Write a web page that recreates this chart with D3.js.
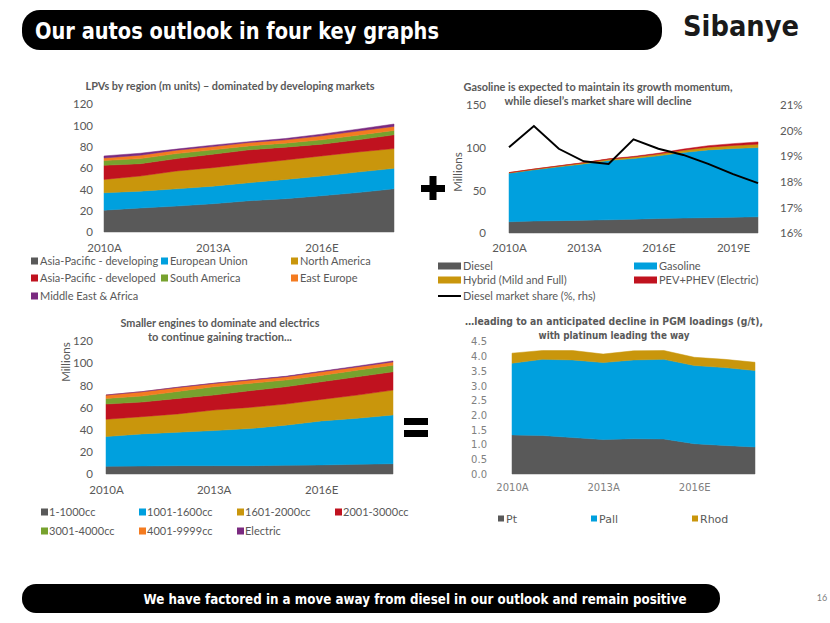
<!DOCTYPE html>
<html><head><meta charset="utf-8">
<script src="https://cdn.jsdelivr.net/npm/d3@7"></script>
<style>
body{margin:0;background:#fff}
svg{display:block}
text{font-family:Lato,'Open Sans',sans-serif}
</style>
</head><body>
<svg id="c" width="830" height="623"></svg>
<script>
// ---------- DATA ----------
const years9 = [2010,2011,2012,2013,2014,2015,2016,2017,2018];
const yearLabels9 = ["2010A","2011A","2012A","2013A","2014A","2015A","2016E","2017E","2018E"];
const years11 = [2010,2011,2012,2013,2014,2015,2016,2017,2018,2019,2020];
const yearLabels11 = ["2010A","2011A","2012A","2013A","2014A","2015A","2016E","2017E","2018E","2019E","2020E"];

// Chart 1: LPVs by region (m units)
const regionNames = ["Asia-Pacific - developing","European Union","North America","Asia-Pacific - developed","South America","East Europe","Middle East & Africa"];
const apDeveloping = [20.5,22.5,24.3,26.5,29.3,31.2,34.0,37.0,40.5];
const europeanUnion = [16.3,15.8,16.2,16.5,16.9,18.1,18.5,19.2,19.2];
const northAmerica = [12.5,14.2,16.7,17.3,17.8,18.2,18.8,18.8,18.5];
const apDeveloped = [13.2,11.5,11.6,12.6,13.0,12.0,11.0,11.4,12.9];
const southAmerica = [4.5,4.8,4.7,4.1,3.7,3.8,4.1,4.4,4.1];
const eastEurope = [2.4,3.2,3.2,3.1,3.2,3.1,3.8,3.8,3.8];
const middleEastAfrica = [1.9,1.8,1.0,1.3,0.8,1.2,1.5,1.8,2.2];
const regionTicks = [0,20,40,60,80,100,120];

// Chart 2: powertrain (millions) + diesel share
const powertrainNames = ["Diesel","Gasoline","Hybrid (Mild and Full)","PEV+PHEV (Electric)"];
const diesel = [13.2,14.0,14.5,15.0,15.5,16.2,17.0,17.5,18.0,18.5,19.0];
const gasoline = [56.9,60.0,63.0,66.0,69.5,71.1,73.4,76.8,79.4,80.5,81.1];
const hybrid = [0.6,0.8,1.0,1.2,1.5,1.8,2.2,2.7,3.2,3.6,4.0];
const pevPhev = [0.1,0.1,0.2,0.3,0.4,0.6,0.9,1.3,1.7,2.1,2.6];
const dieselShare = [19.35,20.18,19.29,18.8,18.7,19.66,19.29,19.05,18.7,18.3,17.95];
const powertrainTicks = [0,50,100,150];
const shareTicks = [16,17,18,19,20,21];

// Chart 3: engine sizes (millions)
const engineNames = ["1-1000cc","1001-1600cc","1601-2000cc","2001-3000cc","3001-4000cc","4001-9999cc","Electric"];
const cc1000 = [6.9,7.2,7.5,7.5,7.5,7.8,8.2,8.7,9.3];
const cc1600 = [26.9,29.0,30.2,31.7,33.5,36.2,39.7,41.6,44.0];
const cc2000 = [15.6,15.5,16.5,18.5,19.1,19.1,19.4,20.9,22.4];
const cc3000 = [13.7,13.2,14.0,13.5,15.0,15.6,15.9,16.5,16.5];
const cc4000 = [5.1,5.4,6.3,7.5,6.6,6.0,5.7,6.0,5.9];
const cc9999 = [3.0,3.9,3.6,3.0,3.0,3.0,3.3,2.9,3.0];
const electric = [0.1,0.1,0.2,0.2,0.3,0.4,0.5,0.7,0.9];
const engineTicks = [0,20,40,60,80,100,120];

// Chart 4: PGM loadings (g/t)
const pgmNames = ["Pt","Pall","Rhod"];
const pt = [1.33,1.31,1.24,1.17,1.20,1.19,1.03,0.97,0.92];
const pall = [2.44,2.59,2.64,2.62,2.68,2.71,2.66,2.65,2.60];
const rhod = [0.34,0.30,0.32,0.29,0.31,0.30,0.28,0.28,0.28];
const pgmTicks = [0,0.5,1,1.5,2,2.5,3,3.5,4,4.5];

// ---------- STYLE ----------
const C = {gray:"#595959",blue:"#00A0DE",gold:"#C9960C",red:"#C0121F",green:"#77A22E",orange:"#F47B20",purple:"#7A2A80"};
const textCol = "#595959";

const svg = d3.select("#c");

// header
svg.append("rect").attr("x",22).attr("y",10).attr("width",640).attr("height",40).attr("rx",18).attr("fill","#000");
svg.append("text").attr("x",35).attr("y",39).attr("fill","#fff")
  .style("font-family","'DejaVu Sans',sans-serif").style("font-weight","bold").style("font-size","23px")
  .attr("textLength",404).attr("lengthAdjust","spacingAndGlyphs")
  .text("Our autos outlook in four key graphs");
svg.append("text").attr("x",683).attr("y",36).attr("fill","#1a1a1a")
  .style("font-family","'DejaVu Sans',sans-serif").style("font-weight","bold").style("font-size","28px")
  .attr("textLength",116).attr("lengthAdjust","spacingAndGlyphs")
  .text("Sibanye");

// footer
svg.append("rect").attr("x",22).attr("y",584).attr("width",698).attr("height",29).attr("rx",14).attr("fill","#000");
svg.append("text").attr("x",415).attr("y",604).attr("text-anchor","middle").attr("fill","#fff")
  .style("font-family","'DejaVu Sans',sans-serif").style("font-weight","bold").style("font-size","14px")
  .attr("textLength",543).attr("lengthAdjust","spacingAndGlyphs")
  .text("We have factored in a move away from diesel in our outlook and remain positive");
svg.append("text").attr("x",822).attr("y",601).attr("text-anchor","middle").attr("fill","#808080")
  .style("font-size","9px").text("16");

// plus and equals signs
svg.append("rect").attr("x",421).attr("y",185).attr("width",24).attr("height",7).attr("fill","#000");
svg.append("rect").attr("x",429.5).attr("y",176).attr("width",7).attr("height",24).attr("fill","#000");
svg.append("rect").attr("x",404).attr("y",418).attr("width",24).attr("height",7).attr("fill","#000");
svg.append("rect").attr("x",404).attr("y",430).attr("width",24).attr("height",7).attr("fill","#000");

// ---------- helpers ----------
function stackChart(o){
  const data = o.x.domain ? o.years.map((yr,i)=>{const r={year:yr}; o.keys.forEach((k,j)=>r[k]=o.series[j][i]); return r;}) : [];
  const stack = d3.stack().keys(o.keys)(data);
  const area = d3.area().x(d=>o.x(d.data.year)).y0(d=>o.y(d[0])).y1(d=>o.y(d[1]));
  const g = svg.append("g");
  g.selectAll("path.a").data(stack).join("path").attr("class","a")
    .attr("d",area).attr("fill",(d,i)=>o.colors[i]).attr("stroke",(d,i)=>o.colors[i]).attr("stroke-width",0.5);
  return g;
}
function leftAxis(y, x0, ticks, fmt, pad, font, size, col){
  const g = svg.append("g").attr("transform",`translate(${x0},0)`)
    .call(d3.axisLeft(y).tickValues(ticks).tickFormat(fmt).tickSize(0).tickPadding(pad));
  g.select(".domain").remove();
  g.selectAll("text").attr("fill",col||textCol).style("font-size",size+"px").style("font-family",font);
  return g;
}
function bottomAxis(x, y0, ticks, fmt, pad, font, size, col){
  const g = svg.append("g").attr("transform",`translate(0,${y0})`)
    .call(d3.axisBottom(x).tickValues(ticks).tickFormat(fmt).tickSize(0).tickPadding(pad));
  g.select(".domain").remove();
  g.selectAll("text").attr("fill",col||textCol).style("font-size",size+"px").style("font-family",font);
  return g;
}
function title(lines, cx, y0, lh, font, size, widths){
  lines.forEach((t,i)=>{
    const tx = svg.append("text").attr("x",cx).attr("y",y0+i*lh).attr("text-anchor","middle")
      .attr("fill",textCol).style("font-weight","bold").style("font-size",size+"px").style("font-family",font).text(t);
    if(widths && widths[i]) tx.attr("textLength",widths[i]).attr("lengthAdjust","spacingAndGlyphs");
  });
}
function legend(items, colors, cols, rows, perRow, opts){
  items.forEach((t,i)=>{
    const cx = cols[i%perRow], cy = rows[Math.floor(i/perRow)];
    if(opts.swatch==="square"){
      svg.append("rect").attr("x",cx).attr("y",cy-3.5).attr("width",opts.sq).attr("height",opts.sq).attr("fill",colors[i]);
    } else if(colors[i]==="line"){
      svg.append("line").attr("x1",cx).attr("x2",cx+23).attr("y1",cy).attr("y2",cy).attr("stroke","#000").attr("stroke-width",2);
    } else {
      svg.append("rect").attr("x",cx).attr("y",cy-3.5).attr("width",23).attr("height",7).attr("fill",colors[i]);
    }
    svg.append("text").attr("x",cx+opts.dx).attr("y",cy+4).attr("fill",textCol)
      .style("font-size",opts.size+"px").style("font-family",opts.font||"Lato").text(t);
  });
}

const F = "Lato";

// ---------- Chart 1 ----------
{
  const x = d3.scaleLinear().domain([2010,2018]).range([104,394]);
  const y = d3.scaleLinear().domain([0,120]).range([232,104]);
  stackChart({years:years9,keys:regionNames,series:[apDeveloping,europeanUnion,northAmerica,apDeveloped,southAmerica,eastEurope,middleEastAfrica],
    x,y,colors:[C.gray,C.blue,C.gold,C.red,C.green,C.orange,C.purple]});
  leftAxis(y,104,regionTicks,d3.format("d"),11,F,11.5);
  bottomAxis(x,232,[2010,2013,2016],d=>yearLabels9[years9.indexOf(d)],12,F,11.5);
  title(["LPVs by region (m units) – dominated by developing markets"],230,90,14,F,10.5,[289]);
  legend(regionNames,[C.gray,C.blue,C.gold,C.red,C.green,C.orange,C.purple],[31,161,291],[261,278,296],3,{swatch:"square",sq:7,dx:9,size:11});
}

// ---------- Chart 2 ----------
{
  const x = d3.scaleLinear().domain([2010,2020]).range([509,758]);
  const y = d3.scaleLinear().domain([0,150]).range([233,105]);
  const y2 = d3.scaleLinear().domain([16,21]).range([233,105]);
  stackChart({years:years11,keys:powertrainNames,series:[diesel,gasoline,hybrid,pevPhev],x,y,colors:[C.gray,C.blue,C.gold,C.red]});
  const line = d3.line().x((d,i)=>x(years11[i])).y(d=>y2(d));
  svg.append("path").datum(dieselShare).attr("d",line).attr("fill","none").attr("stroke","#000").attr("stroke-width",2).attr("stroke-linejoin","miter");
  leftAxis(y,509,powertrainTicks,d3.format("d"),23,F,11.5);
  const gr = svg.append("g").attr("transform","translate(780,0)")
    .call(d3.axisRight(y2).tickValues(shareTicks).tickFormat(d=>d+"%").tickSize(0).tickPadding(0));
  gr.select(".domain").remove();
  gr.selectAll("text").attr("fill",textCol).style("font-size","11.5px").style("font-family",F);
  bottomAxis(x,233,[2010,2013,2016,2019],d=>yearLabels11[years11.indexOf(d)],11,F,11.5);
  svg.append("text").attr("transform","translate(462,172) rotate(-90)").attr("text-anchor","middle")
    .attr("fill",textCol).style("font-size","11.5px").style("font-family",F).text("Millions");
  title(["Gasoline is expected to maintain its growth momentum,","while diesel’s market share will decline"],598,91,14,F,10.5,[269,187]);
  legend(powertrainNames.concat(["Diesel market share (%, rhs)"]),[C.gray,C.blue,C.gold,C.red,"line"],[438,634],[266,280,296],2,{swatch:"bar",dx:25,size:11});
}

// ---------- Chart 3 ----------
{
  const x = d3.scaleLinear().domain([2010,2018]).range([106,393]);
  const y = d3.scaleLinear().domain([0,120]).range([474,341]);
  stackChart({years:years9,keys:engineNames,series:[cc1000,cc1600,cc2000,cc3000,cc4000,cc9999,electric],
    x,y,colors:[C.gray,C.blue,C.gold,C.red,C.green,C.orange,C.purple]});
  leftAxis(y,106,engineTicks,d3.format("d"),13,F,11.5);
  bottomAxis(x,474,[2010,2013,2016],d=>yearLabels9[years9.indexOf(d)],12,F,11.5);
  svg.append("text").attr("transform","translate(70,362) rotate(-90)").attr("text-anchor","middle")
    .attr("fill",textCol).style("font-size","11.5px").style("font-family",F).text("Millions");
  title(["Smaller engines to dominate and electrics","to continue gaining  traction..."],220,327,14,F,10.5,[199,144]);
  legend(engineNames,[C.gray,C.blue,C.gold,C.red,C.green,C.orange,C.purple],[41,139,237,335],[512,531],4,{swatch:"square",sq:7,dx:8,size:11});
}

// ---------- Chart 4 ----------
{
  const x = d3.scaleLinear().domain([2010,2018]).range([512,755]);
  const y = d3.scaleLinear().domain([0,4.5]).range([474,341.7]);
  stackChart({years:years9,keys:pgmNames,series:[pt,pall,rhod],x,y,colors:[C.gray,C.blue,C.gold]});
  const G = "'DejaVu Sans',sans-serif";
  leftAxis(y,512,pgmTicks,d3.format(".1f"),25,G,10,"#808080");
  bottomAxis(x,474,[2010,2013,2016],d=>yearLabels9[years9.indexOf(d)],10,G,10,"#808080");
  title(["…leading to an anticipated decline in PGM loadings (g/t),","with platinum leading the way"],614,325,14,G,10,[298,151]);
  legend(pgmNames,[C.gray,C.blue,C.gold],[498,591,692],[519],3,{swatch:"square",sq:6,dx:8,size:11,font:G});
}
</script>
</body></html>
